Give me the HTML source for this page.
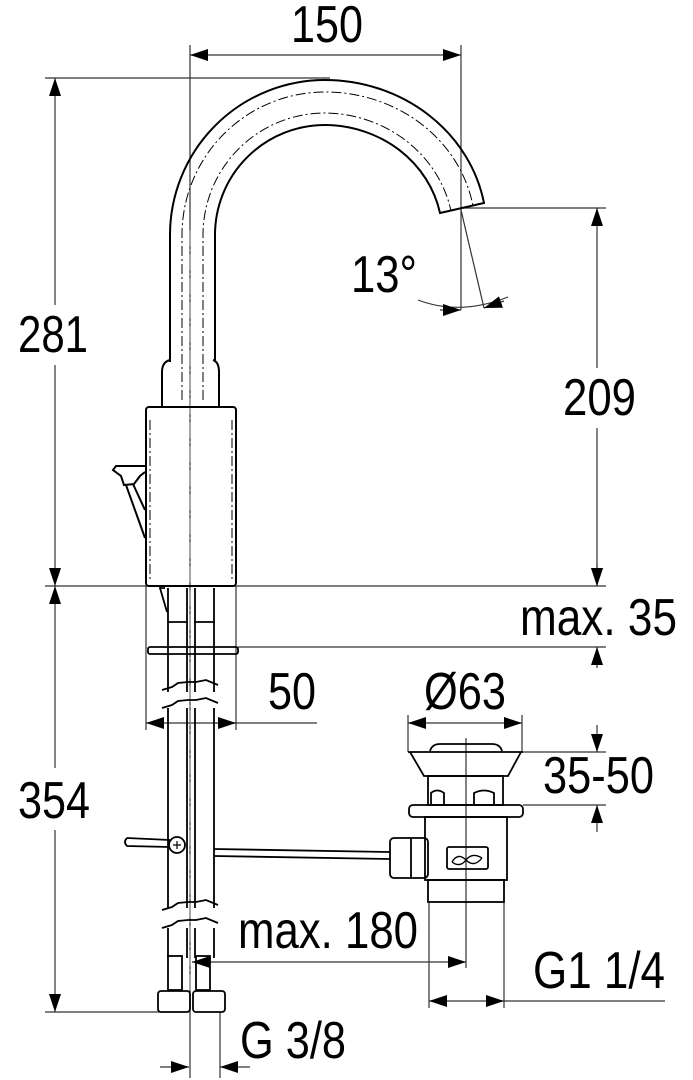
<!DOCTYPE html>
<html><head><meta charset="utf-8"><style>
html,body{margin:0;padding:0;background:#fff;}
svg{display:block;}
text{font-family:"Liberation Sans",sans-serif;font-size:52px;fill:#000;}
</style></head><body>
<svg width="693" height="1080" viewBox="0 0 693 1080" xmlns="http://www.w3.org/2000/svg">
<defs>
<marker id="a" viewBox="0 0 18 12" refX="18" refY="6" markerWidth="18" markerHeight="12" markerUnits="userSpaceOnUse" orient="auto-start-reverse"><path d="M0,0 L18,6 L0,12 z" fill="#000"/></marker>
</defs>
<g stroke="#000" fill="none">
<!-- dimension / extension lines (thin) -->
<g stroke-width="1.2" stroke="#333">
<line x1="190" y1="45" x2="190" y2="1078"/>
<line x1="461" y1="45" x2="461" y2="310"/>
<line x1="45" y1="78" x2="330" y2="78"/>
<line x1="462" y1="208" x2="606" y2="208"/>
<line x1="45" y1="586" x2="606" y2="586"/>
<line x1="238" y1="647" x2="606" y2="647"/>
<line x1="522" y1="752" x2="606" y2="752"/>
<line x1="523" y1="805" x2="606" y2="805"/>
<line x1="45" y1="1012" x2="160" y2="1012"/>
<line x1="146" y1="586" x2="146" y2="730"/>
<line x1="236" y1="586" x2="236" y2="730"/>
<line x1="408" y1="715" x2="408" y2="752"/>
<line x1="522" y1="715" x2="522" y2="752"/>
<line x1="466" y1="738" x2="466" y2="968"/>
<line x1="429" y1="902" x2="429" y2="1008"/>
<line x1="504" y1="902" x2="504" y2="1008"/>
<line x1="220" y1="1012" x2="220" y2="1078"/>
<!-- dim lines -->
<line x1="190" y1="55" x2="461" y2="55" marker-start="url(#a)" marker-end="url(#a)"/>
<line x1="55" y1="78" x2="55" y2="305" marker-start="url(#a)"/>
<line x1="55" y1="365" x2="55" y2="586" marker-end="url(#a)"/>
<line x1="55" y1="586" x2="55" y2="768" marker-start="url(#a)"/>
<line x1="55" y1="830" x2="55" y2="1012" marker-end="url(#a)"/>
<line x1="597" y1="208" x2="597" y2="368" marker-start="url(#a)"/>
<line x1="597" y1="428" x2="597" y2="586" marker-end="url(#a)"/>
<line x1="597" y1="565" x2="597" y2="586" marker-end="url(#a)"/>
<line x1="597" y1="668" x2="597" y2="647" marker-end="url(#a)"/>
<line x1="597" y1="725" x2="597" y2="752" marker-end="url(#a)"/>
<line x1="597" y1="832" x2="597" y2="805" marker-end="url(#a)"/>
<line x1="166" y1="723" x2="146" y2="723" marker-end="url(#a)"/>
<line x1="216" y1="723" x2="317" y2="723"/>
<line x1="216" y1="723" x2="236" y2="723" marker-end="url(#a)"/>
<line x1="166" y1="723" x2="216" y2="723"/>
<line x1="408" y1="723" x2="522" y2="723" marker-start="url(#a)" marker-end="url(#a)"/>
<line x1="192" y1="962" x2="466" y2="962" marker-start="url(#a)" marker-end="url(#a)"/>
<line x1="429" y1="1001" x2="504" y2="1001" marker-start="url(#a)" marker-end="url(#a)"/>
<line x1="504" y1="1001" x2="665" y2="1001"/>
<line x1="160" y1="1067" x2="189" y2="1067" marker-end="url(#a)"/>
<line x1="250" y1="1067" x2="220" y2="1067" marker-end="url(#a)"/>
<!-- angle -->
<line x1="461" y1="210" x2="484" y2="308"/>
<path d="M418,300 Q460,316 508,297"/>
<line x1="440" y1="310" x2="461" y2="310" marker-end="url(#a)"/>
<line x1="504" y1="301" x2="484" y2="308" marker-end="url(#a)"/>
</g>
<!-- spout -->
<g stroke-width="2">
<path d="M170,362 L170,235 A155,155 0 0 1 325,80 A162,150 0 0 1 484,203 L440,213 A118,110 0 0 0 325,125 A110,110 0 0 0 215,235 L215,362"/>
</g>
<g stroke-width="1" stroke-dasharray="10,3,2,3">
<path d="M182,400 L182,235 A143,143 0 0 1 325,92 A150,138 0 0 1 473,206"/>
<path d="M203,400 L203,235 A122,122 0 0 1 325,113 A130,122 0 0 1 451,211"/>
<line x1="150" y1="420" x2="150" y2="582"/>
<line x1="232" y1="420" x2="232" y2="582"/>
</g>
<line x1="190" y1="230" x2="190" y2="1000" stroke="#777" stroke-width="1" stroke-dasharray="16,3,2,3"/>
<!-- collar & body -->
<g stroke-width="2">
<path d="M162,407 L162,372 Q162,362 170,360"/>
<path d="M219,407 L219,372 Q219,362 213,360"/>
<rect x="146" y="407" width="90" height="179" rx="3"/>
<!-- lever -->
<path d="M145,466 L116,466 L113,470 L121,476 L124,485 L134,484 L140,476 L145,472"/>
<path d="M126,485 L145,538 M133,484 L145,510"/>
</g>
<!-- hoses -->
<g stroke-width="1.8">
<path d="M168,588 L168,622 L187,622 L187,588"/>
<path d="M195,588 L195,622 L214,622 L214,588"/>
<path d="M165,588 L160,588 L167,612"/>
<rect x="148" y="647" width="90" height="7" rx="2"/>
<path d="M168,622 L168,692 M187,622 L187,692 M195,622 L195,692 M214,622 L214,692"/>
<path d="M162,690 L172,687 L178,683 L188,682 L196,682 L206,680 L218,685"/>
<path d="M162,708 L172,705 L178,701 L188,700 L196,700 L206,698 L218,703"/>
<path d="M168,708 L168,908 M187,708 L187,908 M195,708 L195,908 M214,708 L214,908"/>
<path d="M162,910 L172,907 L178,903 L188,902 L196,902 L206,900 L218,905"/>
<path d="M162,928 L172,925 L178,921 L188,920 L196,920 L206,918 L218,923"/>
<path d="M168,928 L168,958 M187,928 L187,958 M195,928 L195,958 M214,928 L214,958"/>
<rect x="168" y="956" width="14" height="34"/>
<rect x="196" y="956" width="14" height="34"/>
<rect x="158" y="991" width="32" height="21" rx="3"/>
<rect x="193" y="991" width="32" height="21" rx="3"/>
<!-- lift rod -->
<path d="M127,838 L170,840 M127,838 Q123,842 127,846 L170,847"/>
<path d="M214,849 L390,852 M214,856 L390,859"/>
<circle cx="177" cy="845" r="8"/>
<path d="M173,845 H181 M177,841 V849" stroke-width="1.2"/>
</g>
<!-- waste -->
<g stroke-width="1.8">
<path d="M430,751 Q432,744 440,744 L492,744 Q500,744 502,751"/>
<line x1="408" y1="752" x2="523" y2="752"/>
<path d="M410,752 L424,776 L508,776 L521,752"/>
<rect x="428" y="776" width="75" height="29"/>
<path d="M431,805 L431,793 Q437,788 444,793 L444,805 M474,805 L474,793 Q484,788 494,793 L494,805"/>
<rect x="409" y="805" width="114" height="12" rx="4"/>
<rect x="425" y="817" width="82" height="63"/>
<rect x="428" y="880" width="76" height="22"/>
<rect x="390" y="838" width="38" height="40" rx="4"/>
<line x1="411" y1="838" x2="411" y2="878"/>
<rect x="447" y="847" width="41" height="22" rx="2"/>
<path d="M452,862 Q458,852 466,860 Q474,868 482,858 M452,862 Q460,868 466,860 Q472,852 482,858" stroke-width="1.4"/>
</g>
</g>
<g>
<text x="291" y="42" textLength="72" lengthAdjust="spacingAndGlyphs">150</text>
<text x="18" y="352" textLength="70" lengthAdjust="spacingAndGlyphs">281</text>
<text x="351" y="292" textLength="66" lengthAdjust="spacingAndGlyphs">13°</text>
<text x="563" y="415" textLength="73" lengthAdjust="spacingAndGlyphs">209</text>
<text x="520" y="635" textLength="157" lengthAdjust="spacingAndGlyphs">max. 35</text>
<text x="268" y="709" textLength="48" lengthAdjust="spacingAndGlyphs">50</text>
<text x="424" y="709" textLength="82" lengthAdjust="spacingAndGlyphs">Ø63</text>
<text x="543" y="793" textLength="111" lengthAdjust="spacingAndGlyphs">35-50</text>
<text x="18" y="818" textLength="72" lengthAdjust="spacingAndGlyphs">354</text>
<text x="238" y="948" textLength="180" lengthAdjust="spacingAndGlyphs">max. 180</text>
<text x="533" y="988" textLength="132" lengthAdjust="spacingAndGlyphs">G1 1/4</text>
<text x="240" y="1058" textLength="106" lengthAdjust="spacingAndGlyphs">G 3/8</text>
</g>
</svg>
</body></html>
